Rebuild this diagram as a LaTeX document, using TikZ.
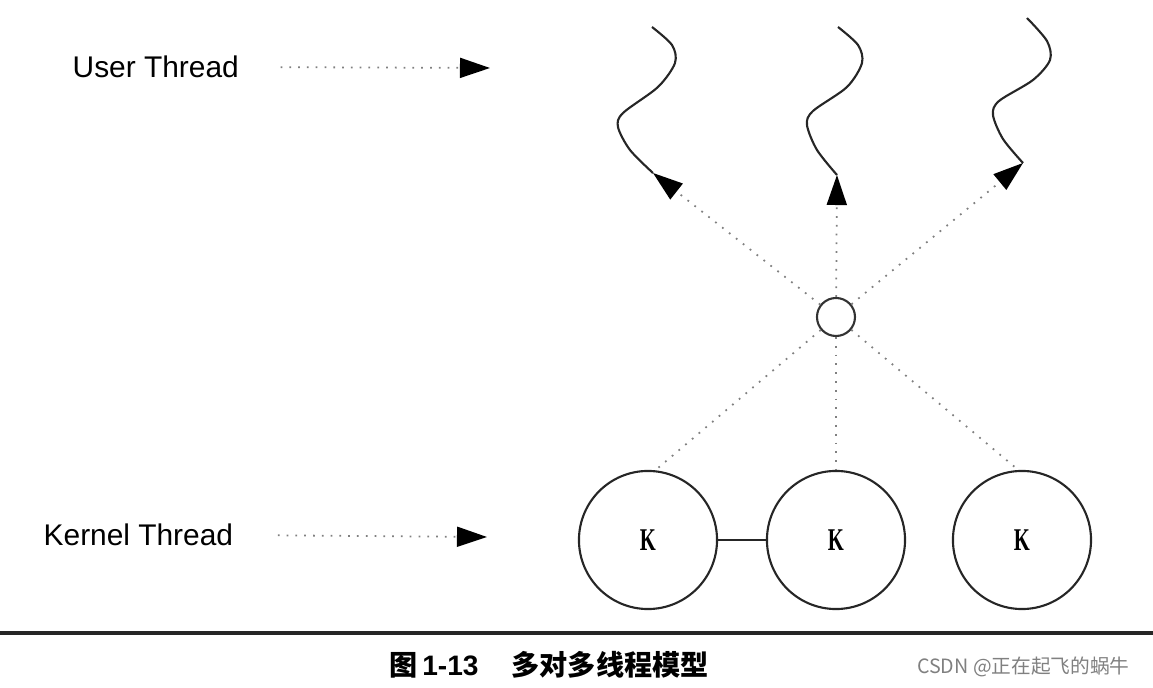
\documentclass[tikz,border=0pt]{standalone}
\usepackage{fontspec}
\usepackage{graphicx}
\setmainfont{Liberation Sans}
\newfontfamily\kfont{Liberation Serif}
\newfontfamily\cjk{Noto Sans CJK SC}
\usetikzlibrary{arrows.meta}

\newcommand\kname{\scalebox{0.65}[1]{K}}

\tikzset{
  kthread/.style={draw=black!85,line width=0.6pt,circle,minimum size=1.38cm,inner sep=0pt,
    font=\kfont\bfseries\fontsize{9}{9}\selectfont},
  lwp/.style={draw=black!80,line width=0.6pt,circle,minimum size=0.38cm,inner sep=0pt},
  dots/.style={gray,line width=0.5pt,dotted},
  bigtip/.style={-{Triangle[length=3mm,width=2mm,color=black]}},
  legend/.style={font=\fontsize{8.5}{10}\selectfont,inner sep=0pt},
  wave/.style={black!85,line width=0.6pt}
}

\begin{document}
\begin{tikzpicture}[x=0.01cm,y=-0.01cm]
  \useasboundingbox (0,0) rectangle (1153,688);
  % legend on the left
  \node[legend,anchor=west] (ut) at (72,67) {User Thread};
  \node[legend,anchor=west] (kt) at (43,535) {Kernel Thread};
  \coordinate (uta) at (490,68);
  \coordinate (kta) at (487,537);
  \draw[dots,bigtip,shorten <=0.41cm] (ut.east) -- (uta);
  \draw[dots,bigtip,shorten <=0.44cm] (kt.east) -- (kta);
  % kernel threads
  \node[kthread] (k1) at (648,540) {\kname};
  \node[kthread] (k2) at (836,540) {\kname};
  \node[kthread] (k3) at (1022,540) {\kname};
  \draw[black!85,line width=0.6pt] (k1) -- (k2);
  % lightweight process
  \node[lwp] (lwp) at (836,317) {};
  % user threads (wavy)
  \coordinate (u1) at (653,173);
  \coordinate (u2) at (837,175);
  \coordinate (u3) at (1023,163);
  \draw[wave,shift={(u1)}] plot[smooth] coordinates {(0,0) (-23,-23) (-35,-46) (-30,-60) (5,-86) (22,-110) (19,-128) (-1,-146)};
  \draw[wave,shift={(u2)}] plot[smooth] coordinates {(0,0) (-20,-25) (-30,-50) (-24,-64) (10,-88) (25,-112) (21,-130) (1,-148)};
  \draw[wave,shift={(u3)}] plot[smooth] coordinates {(0,0) (-20,-24) (-30,-48) (-24,-62) (10,-83) (27,-103) (24,-122) (4,-145)};
  \draw[dots,bigtip] (lwp) -- (u1);
  \draw[dots,bigtip] (lwp) -- (u2);
  \draw[dots,bigtip] (lwp) -- (u3);
  \draw[dots] (lwp) -- (k1.84);
  \draw[dots] (lwp) -- (k2.north);
  \draw[dots] (lwp) -- (k3.93);
  % caption
  \draw[black!85,line width=0.9pt] (0,633) -- (1153,633);
  \node[font=\bfseries\fontsize{8}{10}\selectfont] (cap) at (549,665) {{\cjk 图}\,1-13\hspace{0.33cm}{\cjk 多对多线程模型}};
  \node[anchor=east,text=gray,font=\cjk\fontsize{5.6}{6}\selectfont] (wm) at (1142,667) {CSDN @正在起飞的蜗牛};
\end{tikzpicture}
\end{document}
